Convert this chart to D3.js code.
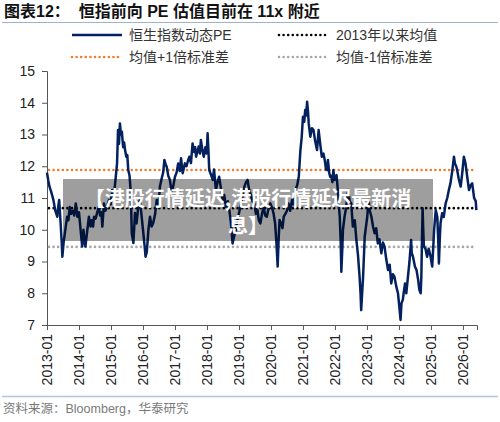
<!DOCTYPE html>
<html lang="zh">
<head>
<meta charset="UTF-8">
<title>恒指前向 PE</title>
<script src="https://d3js.org/d3.v7.min.js"></script>
<style>
  body { margin: 0; background: #fff; }
  svg { display: block; font-family: "Liberation Sans", Arial, "Noto Sans CJK SC", sans-serif; }
</style>
</head>
<body>
<div id="chart"></div>
<script>
// decimal year -> dynamic PE of HSI
const years = [
  2013.00, 2013.04, 2013.08, 2013.13, 2013.20, 2013.26, 2013.32, 2013.36, 2013.38, 2013.42,
  2013.46, 2013.48, 2013.52, 2013.56, 2013.60, 2013.63, 2013.67, 2013.71, 2013.75, 2013.80,
  2013.85, 2013.90, 2013.95, 2014.00, 2014.05, 2014.10, 2014.14, 2014.18, 2014.20, 2014.25,
  2014.31, 2014.36, 2014.40, 2014.44, 2014.47, 2014.52, 2014.57, 2014.62, 2014.66, 2014.70,
  2014.73, 2014.78, 2014.83, 2014.88, 2014.94, 2014.99, 2015.04, 2015.10, 2015.15, 2015.19,
  2015.22, 2015.25, 2015.28, 2015.31, 2015.34, 2015.38, 2015.41, 2015.44, 2015.48, 2015.51,
  2015.54, 2015.58, 2015.62, 2015.65, 2015.70, 2015.75, 2015.80, 2015.85, 2015.90, 2015.95,
  2016.00, 2016.04, 2016.08, 2016.12, 2016.17, 2016.22, 2016.27, 2016.32, 2016.38, 2016.43,
  2016.48, 2016.53, 2016.58, 2016.63, 2016.67, 2016.71, 2016.74, 2016.79, 2016.84, 2016.88,
  2016.92, 2016.96, 2017.00, 2017.05, 2017.10, 2017.15, 2017.19, 2017.24, 2017.28, 2017.31,
  2017.36, 2017.40, 2017.45, 2017.50, 2017.55, 2017.60, 2017.63, 2017.66, 2017.70, 2017.74,
  2017.78, 2017.81, 2017.85, 2017.90, 2017.95, 2017.99, 2018.02, 2018.05, 2018.07, 2018.12,
  2018.18, 2018.22, 2018.28, 2018.33, 2018.38, 2018.43, 2018.49, 2018.54, 2018.59, 2018.65,
  2018.70, 2018.75, 2018.80, 2018.85, 2018.90, 2018.95, 2019.00, 2019.06, 2019.12, 2019.17,
  2019.22, 2019.27, 2019.31, 2019.37, 2019.42, 2019.48, 2019.53, 2019.58, 2019.62, 2019.67,
  2019.72, 2019.77, 2019.82, 2019.87, 2019.92, 2019.98, 2020.03, 2020.08, 2020.13, 2020.17,
  2020.21, 2020.24, 2020.27, 2020.32, 2020.36, 2020.40, 2020.45, 2020.50, 2020.55, 2020.60,
  2020.66, 2020.71, 2020.76, 2020.82, 2020.87, 2020.92, 2020.96, 2021.00, 2021.04, 2021.07,
  2021.10, 2021.13, 2021.16, 2021.18, 2021.23, 2021.28, 2021.33, 2021.38, 2021.44, 2021.49,
  2021.54, 2021.59, 2021.64, 2021.68, 2021.72, 2021.75, 2021.78, 2021.82, 2021.85, 2021.88,
  2021.92, 2021.95, 2021.99, 2022.05, 2022.09, 2022.15, 2022.18, 2022.20, 2022.23, 2022.25,
  2022.30, 2022.35, 2022.41, 2022.46, 2022.51, 2022.56, 2022.62, 2022.67, 2022.72, 2022.77,
  2022.80, 2022.82, 2022.85, 2022.88, 2022.93, 2022.97, 2023.01, 2023.05, 2023.09, 2023.14,
  2023.19, 2023.24, 2023.29, 2023.34, 2023.39, 2023.45, 2023.50, 2023.55, 2023.60, 2023.66,
  2023.71, 2023.76, 2023.81, 2023.86, 2023.92, 2023.97, 2024.01, 2024.05, 2024.08, 2024.12,
  2024.16, 2024.19, 2024.23, 2024.28, 2024.33, 2024.38, 2024.40, 2024.44, 2024.50, 2024.55,
  2024.60, 2024.64, 2024.68, 2024.70, 2024.72, 2024.74, 2024.76, 2024.78, 2024.83, 2024.88,
  2024.93, 2024.98, 2025.04, 2025.08, 2025.10, 2025.15, 2025.20, 2025.23, 2025.25, 2025.28,
  2025.30, 2025.35, 2025.40, 2025.46, 2025.51, 2025.56, 2025.61, 2025.67, 2025.72, 2025.75,
  2025.79, 2025.82, 2025.87, 2025.93, 2025.98, 2026.03, 2026.08, 2026.13, 2026.19, 2026.24,
  2026.29, 2026.35, 2026.40, 2026.42
];
const pe = [
  11.80, 11.55, 11.35, 11.20, 10.94, 10.60, 10.41, 10.80, 10.94, 10.30,
  9.60, 9.15, 9.60, 9.90, 10.20, 10.41, 10.30, 10.72, 10.50, 10.60,
  10.45, 10.83, 10.41, 10.55, 10.00, 9.47, 10.00, 9.60, 9.47, 9.90,
  10.41, 10.10, 10.30, 10.10, 10.41, 10.35, 10.55, 10.72, 10.45, 10.55,
  10.10, 10.83, 10.60, 10.75, 10.94, 10.80, 11.25, 11.15, 11.67, 12.10,
  13.14, 12.70, 13.35, 13.00, 13.09, 12.60, 12.75, 12.51, 12.30, 12.35,
  11.88, 11.70, 11.15, 9.89, 9.58, 10.53, 10.20, 10.70, 10.94, 10.50,
  10.00, 9.60, 9.15, 9.30, 10.00, 10.41, 10.10, 10.21, 10.50, 10.94,
  10.70, 11.36, 11.60, 11.80, 12.20, 12.05, 11.99, 11.70, 11.57, 11.30,
  11.25, 11.45, 11.67, 11.80, 12.09, 11.85, 12.25, 11.78, 11.95, 12.09,
  12.00, 12.15, 12.30, 12.10, 12.72, 12.45, 12.60, 12.30, 12.45, 12.62,
  12.40, 12.83, 12.55, 12.30, 12.60, 12.40, 13.04, 12.40, 11.88, 11.75,
  11.57, 11.90, 11.25, 11.50, 11.67, 11.35, 10.94, 11.10, 10.72, 10.90,
  10.62, 10.20, 9.57, 9.80, 10.00, 10.30, 10.52, 10.80, 11.10, 11.36,
  11.50, 11.57, 11.30, 11.10, 10.90, 10.83, 10.50, 10.62, 10.30, 10.20,
  10.50, 10.72, 10.45, 10.41, 10.65, 10.83, 10.70, 10.52, 10.20, 9.60,
  8.84, 9.70, 10.31, 10.20, 10.05, 10.41, 10.50, 10.60, 10.83, 10.60,
  10.94, 10.80, 11.25, 11.40, 11.67, 12.51, 12.90, 13.56, 13.40, 13.77,
  13.60, 14.03, 13.70, 13.35, 12.93, 13.20, 13.14, 12.80, 12.51, 13.14,
  12.70, 12.30, 12.40, 12.20, 11.90, 11.88, 12.20, 11.80, 11.67, 11.70,
  11.50, 11.88, 11.57, 11.72, 11.25, 10.41, 9.60, 8.68, 9.40, 10.00,
  10.41, 10.70, 11.25, 10.90, 10.83, 10.10, 10.30, 9.68, 9.20, 8.52,
  8.00, 7.47, 8.00, 8.52, 9.78, 10.10, 10.41, 10.94, 10.60, 10.41,
  10.10, 9.89, 10.05, 9.57, 9.70, 9.26, 9.60, 9.47, 9.10, 8.73,
  8.90, 8.31, 8.60, 8.52, 8.20, 8.00, 7.60, 7.16, 7.68, 7.79,
  8.10, 8.31, 8.00, 8.50, 9.00, 9.68, 9.26, 9.15, 8.84, 8.73,
  8.42, 8.10, 8.00, 8.52, 9.68, 10.68, 10.00, 9.47, 9.40, 9.15,
  9.40, 9.20, 8.84, 9.60, 10.00, 10.62, 10.40, 9.60, 8.94, 9.80,
  10.20, 10.52, 10.40, 10.83, 11.00, 11.25, 11.46, 11.88, 12.30, 12.09,
  12.00, 11.88, 11.60, 11.36, 11.80, 12.30, 12.09, 11.70, 11.25, 11.40,
  11.46, 11.00, 10.90, 10.62
];
const meanPE = 10.68;
const upperPE = 11.88;
const lowerPE = 9.46;

const xTickYears = d3.range(2013, 2027);
const xTickLabels = xTickYears.map(y => y + "-01");
const yTicks = [7, 8, 9, 10, 11, 12, 13, 14, 15];

const legendItems = [
  { label: "恒生指数动态PE", color: "#03215f", dash: null },
  { label: "2013年以来均值", color: "#000000", dash: "0 4.6" },
  { label: "均值+1倍标准差", color: "#f07d2e", dash: "0 4.6" },
  { label: "均值-1倍标准差", color: "#a6a6a6", dash: "0 4.6" }
];

const W = 500, H = 422;
const margin = { top: 71, left: 47, right: 23, bottom: 97 };
const width = W - margin.left - margin.right;
const height = H - margin.top - margin.bottom;

const svgRoot = d3.select("#chart").append("svg")
  .attr("width", W).attr("height", H);

// title + rules
svgRoot.append("text")
  .attr("x", 4).attr("y", 17)
  .attr("font-size", 16).attr("font-weight", "bold").attr("fill", "#111")
  .attr("xml:space", "preserve")
  .text("图表12：  恒指前向 PE 估值目前在 11x 附近");
svgRoot.append("line")
  .attr("x1", 2).attr("x2", 498).attr("y1", 22.5).attr("y2", 22.5)
  .attr("stroke", "#9fb3cf").attr("stroke-width", 1.2);
svgRoot.append("line")
  .attr("x1", 2).attr("x2", 498).attr("y1", 396.5).attr("y2", 396.5)
  .attr("stroke", "#b4c4da").attr("stroke-width", 1.5);
svgRoot.append("text")
  .attr("x", 3).attr("y", 413)
  .attr("font-size", 12.5).attr("fill", "#7a7a7a")
  .text("资料来源：Bloomberg，华泰研究");

// legend
const legend = svgRoot.append("g");
legendItems.forEach((d, i) => {
  const col = i % 2, row = Math.floor(i / 2);
  const lx = 72 + col * 207, ly = 35 + row * 22;
  const l = legend.append("line")
    .attr("x1", lx).attr("x2", lx + 50).attr("y1", ly).attr("y2", ly)
    .attr("stroke", d.color);
  if (d.dash) {
    l.attr("stroke-width", 2.6).attr("stroke-dasharray", d.dash).attr("stroke-linecap", "round");
  } else {
    l.attr("stroke-width", 2.4);
  }
  legend.append("text")
    .attr("x", lx + 57).attr("y", ly + 5)
    .attr("font-size", 14).attr("fill", "#333")
    .text(d.label);
});

const svg = svgRoot.append("g")
  .attr("transform", `translate(${margin.left},${margin.top})`);

const x = d3.scaleLinear().domain([2013, 2026.44]).range([0, width]);
const y = d3.scaleLinear().domain([7, 15]).range([height, 0]);

// y axis
const yAxis = svg.append("g")
  .call(d3.axisLeft(y).tickValues(yTicks).tickSize(5).tickPadding(7).tickFormat(d3.format("d")));
yAxis.select(".domain").attr("stroke", "#555");
yAxis.selectAll(".tick line").attr("stroke", "#555");
yAxis.selectAll(".tick text").attr("font-size", 14).attr("fill", "#222")
  .attr("font-family", "'Liberation Sans', Arial, sans-serif");

// x axis
const xAxis = svg.append("g")
  .attr("transform", `translate(0,${height})`)
  .call(d3.axisBottom(x).tickValues(xTickYears).tickSize(5)
    .tickFormat((d, i) => xTickLabels[i]));
xAxis.select(".domain").attr("stroke", "#555");
xAxis.selectAll(".tick line").attr("stroke", "#555");
xAxis.selectAll(".tick text")
  .attr("font-size", 14).attr("fill", "#222")
  .attr("font-family", "'Liberation Sans', Arial, sans-serif")
  .attr("text-anchor", "end")
  .attr("transform", "rotate(-90)")
  .attr("x", -9).attr("y", 0).attr("dy", "0.35em");

// reference lines
[[upperPE, "#f07d2e"], [meanPE, "#000000"], [lowerPE, "#a6a6a6"]].forEach(([v, c]) => {
  svg.append("line")
    .attr("x1", x(2013) + 2).attr("x2", x(2026.42))
    .attr("y1", y(v)).attr("y2", y(v))
    .attr("stroke", c).attr("stroke-width", 2.6)
    .attr("stroke-dasharray", "0 4.6").attr("stroke-linecap", "round");
});

// PE line
const series = years.map((yr, i) => ({ yr, v: pe[i] }));
svg.append("path")
  .datum(series)
  .attr("fill", "none")
  .attr("stroke", "#03215f")
  .attr("stroke-width", 2.5)
  .attr("stroke-linejoin", "round")
  .attr("d", d3.line().x(d => x(d.yr)).y(d => y(d.v)));

// watermark banner
svgRoot.append("rect")
  .attr("x", 63).attr("y", 179).attr("width", 370).attr("height", 62)
  .attr("fill", "rgba(0,0,0,0.38)");
const wm = svgRoot.append("text")
  .attr("text-anchor", "middle").attr("fill", "#fff")
  .attr("font-size", 20).attr("font-weight", "bold")
  .attr("font-family", "'Noto Sans CJK SC', sans-serif");
wm.append("tspan").attr("x", 248).attr("y", 206).text("【港股行情延迟,港股行情延迟最新消");
wm.append("tspan").attr("x", 248).attr("y", 233).text("息】");
</script>
</body>
</html>
